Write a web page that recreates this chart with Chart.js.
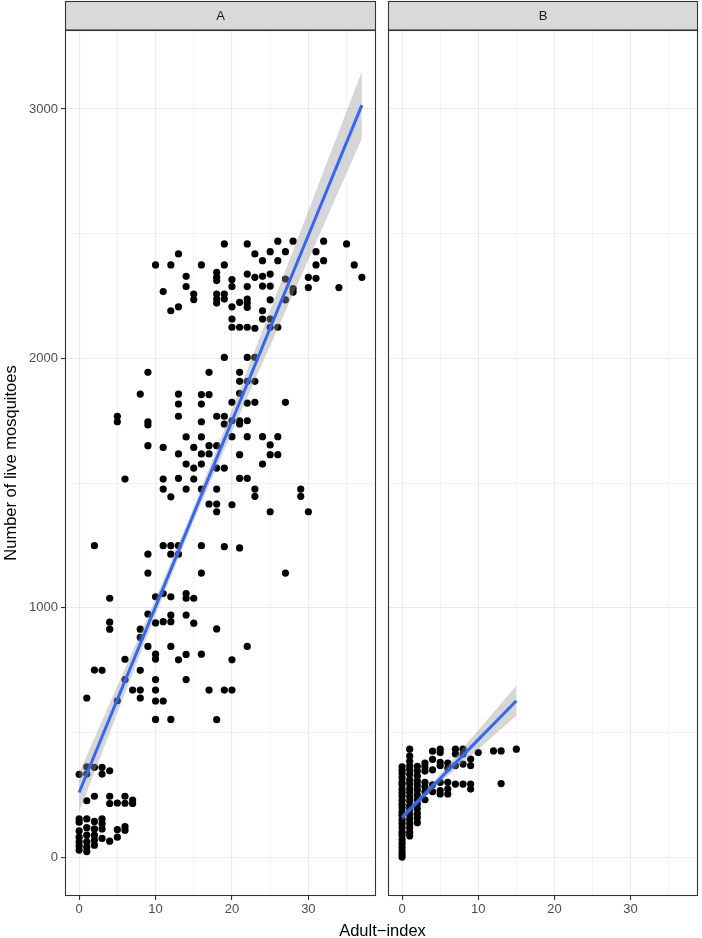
<!DOCTYPE html>
<html>
<head>
<meta charset="utf-8">
<script src="https://cdn.jsdelivr.net/npm/chart.js@4.4.0/dist/chart.umd.min.js"></script>
<style>
  html, body { margin: 0; padding: 0; background: #fff; }
  #quadro { position: relative; width: 702px; height: 938px; font-family: "Liberation Sans", Arial, sans-serif; }
  #grafico-a { position: absolute; left: 0; top: 0; }
  #grafico-b { position: absolute; left: 380px; top: 0; }
  #titulo-x { position: absolute; left: 65px; width: 635px; top: 921px; text-align: center; font-size: 16.5px; color: #000; line-height: 18px; }
</style>
</head>
<body>
<div id="quadro">
  <canvas id="grafico-a" width="380" height="938"></canvas>
  <canvas id="grafico-b" width="322" height="938"></canvas>
  <div id="titulo-x">Adult−index</div>
</div>
<script>
// painel A: valores de Adult-index e, para cada um, os mosquitos vivos
const indiceA = [0, 1, 2, 3, 4, 5, 6, 7, 8, 9, 10, 11, 12, 13, 14, 15, 16, 17, 18, 19, 20, 21, 22, 23, 24, 25, 26, 27, 28, 29, 30, 31, 32, 34, 35, 36, 37];
const vivosA = [
  [332, 153, 140, 105, 80, 62, 45, 28],
  [638, 362, 333, 226, 153, 118, 88, 61, 40, 22],
  [1249, 750, 360, 244, 143, 113, 88, 68, 48],
  [749, 360, 333, 153, 134, 113, 75],
  [1038, 942, 914, 346, 244, 215, 64],
  [1768, 1746, 627, 217, 110, 80],
  [1516, 793, 712, 244, 216, 122, 108],
  [670, 229, 215],
  [1857, 914, 881, 749, 670, 638],
  [1944, 1746, 1733, 1650, 1215, 1139, 975, 845],
  [2375, 1044, 939, 814, 794, 712, 670, 626, 552],
  [2268, 1643, 1516, 1476, 1249, 1057, 944, 626],
  [2375, 2191, 1445, 1249, 1215, 1044, 971, 944, 845, 552],
  [2419, 2207, 1857, 1817, 1768, 1617, 1519, 1249, 1215, 791],
  [2329, 2288, 1685, 1576, 1476, 1057, 1038, 971, 813, 712],
  [2258, 2236, 1643, 1560, 1516, 1038, 938],
  [2375, 1855, 1817, 1746, 1685, 1617, 1576, 1476, 1249, 1139, 814],
  [1944, 1855, 1650, 1617, 1416, 670],
  [2345, 2325, 2312, 2258, 2238, 2222, 1768, 1650, 1560, 1476, 1416, 1385, 915, 551],
  [2459, 2375, 2258, 2238, 2004, 1768, 1737, 1560, 1245, 670],
  [2316, 2288, 2207, 2158, 2125, 1824, 1750, 1686, 1413, 791, 670],
  [2225, 2125, 1944, 1908, 1860, 1750, 1737, 1614, 1519, 1240],
  [2459, 2338, 2288, 2238, 2222, 2205, 2125, 2004, 1908, 1821, 1750, 1686, 1519, 845],
  [2419, 2325, 2121, 2004, 1908, 1824, 1476, 1447],
  [2392, 2329, 2290, 2191, 2158, 1686, 1576],
  [2428, 2338, 2290, 2235, 2158, 2125, 1653, 1614, 1385],
  [2470, 2392, 2125, 1686, 1614],
  [2428, 2318, 2235, 1824, 1139],
  [2470, 2280, 2266],
  [1476, 1447],
  [2325, 2284, 1385],
  [2428, 2375, 2321],
  [2470, 2392],
  [2284],
  [2459],
  [2375],
  [2325],
];

// painel B
const indiceB = [0, 1, 2, 3, 4, 5, 6, 7, 8, 9, 10, 12, 13, 15];
const vivosB = [
  [362, 348, 335, 318, 300, 290, 272, 258, 245, 228, 212, 198, 180, 168, 150, 135, 118, 100, 88, 70, 55, 40, 25, 12, 0],
  [433, 405, 384, 365, 350, 332, 310, 295, 276, 260, 242, 225, 206, 190, 170, 152, 135, 118, 100, 85],
  [364, 345, 325, 305, 288, 270, 250, 232, 214, 195, 175, 158, 138],
  [377, 362, 345, 300, 282, 262, 230],
  [425, 392, 350, 290, 262],
  [433, 419, 380, 367, 300, 267, 253],
  [377, 357, 300, 273, 253],
  [433, 413, 367, 293],
  [433, 413, 373, 293],
  [393, 367, 293, 273],
  [419],
  [426],
  [426, 295],
  [433],
];

// reta ajustada (lm) e faixa de confiança
const ajusteXA = [0, 5, 10, 15, 20, 25, 30, 37];
const ajusteA = [259, 632, 1004, 1377, 1749, 2122, 2494, 3016];
const faixaInfA = [181, 578, 972, 1350, 1704, 2051, 2396, 2881];
const faixaSupA = [337, 686, 1036, 1404, 1794, 2193, 2592, 3151];

const ajusteXB = [0, 2.5, 5, 7.5, 10, 12.5, 15];
const ajusteB = [159, 237, 315, 393, 471, 549, 627];
const faixaInfB = [145, 225, 298, 366, 433, 500, 567];
const faixaSupB = [173, 249, 332, 420, 509, 598, 687];

// eixos
const gradeX = [0, 5, 10, 15, 20, 25, 30, 35];
const marcasX = [0, 10, 20, 30];
const gradeY = [0, 500, 1000, 1500, 2000, 2500, 3000];
const marcasY = [0, 1000, 2000, 3000];

const X_MIN = -1.85;
const X_MAX = 38.85;
const Y_MIN = -156;
const Y_MAX = 3317;

const FONTE = "'Liberation Sans', Arial, sans-serif";

const pontosDe = (indices, vivos) =>
  indices.flatMap((x, i) => vivos[i].map((y) => ({ x, y })));

const serieDe = (xs, ys) => xs.map((x, i) => ({ x, y: ys[i] }));

const faixaPlugin = {
  id: "faixa",
  afterDraw(chart, args, opts) {
    const { ctx, chartArea: a } = chart;
    ctx.save();
    ctx.fillStyle = "#D9D9D9";
    ctx.fillRect(a.left, 1, a.right - a.left, a.top - 1);
    ctx.strokeStyle = "#333333";
    ctx.lineWidth = 1.1;
    ctx.strokeRect(a.left + 0.5, 1.5, a.right - a.left - 1, a.top - 1.5);
    ctx.strokeRect(a.left + 0.5, a.top + 0.5, a.right - a.left - 1, a.bottom - a.top - 1);
    ctx.fillStyle = "#1A1A1A";
    ctx.font = `13px ${FONTE}`;
    ctx.textAlign = "center";
    ctx.textBaseline = "middle";
    ctx.fillText(opts.texto, (a.left + a.right) / 2, (a.top + 1) / 2 + 0.5);
    ctx.restore();
  },
};

const corGrade = "#EBEBEB";

const criarGrafico = (idCanvas, painel) => {
  const canvas = document.getElementById(idCanvas);
  const ctx = canvas.getContext("2d");
  const comEixoY = painel.comEixoY;

  return new Chart(ctx, {
    type: "scatter",
    data: {
      datasets: [
        {
          label: "pontos",
          data: pontosDe(painel.indices, painel.vivos),
          backgroundColor: "#000000",
          borderWidth: 0,
          pointRadius: 3.6,
          order: 3,
        },
        {
          label: "faixa inferior",
          data: serieDe(painel.ajusteX, painel.faixaInf),
          showLine: true,
          borderWidth: 0,
          borderColor: "rgba(0,0,0,0)",
          pointRadius: 0,
          fill: false,
          order: 2,
        },
        {
          label: "faixa superior",
          data: serieDe(painel.ajusteX, painel.faixaSup),
          showLine: true,
          borderWidth: 0,
          borderColor: "rgba(0,0,0,0)",
          backgroundColor: "rgba(153,153,153,0.4)",
          pointRadius: 0,
          fill: "-1",
          order: 2,
        },
        {
          label: "ajuste",
          data: serieDe(painel.ajusteX, painel.ajuste),
          showLine: true,
          borderColor: "#3366FF",
          borderWidth: 3,
          pointRadius: 0,
          fill: false,
          order: 1,
        },
      ],
    },
    options: {
      responsive: false,
      animation: false,
      events: [],
      layout: { padding: painel.padding },
      plugins: {
        legend: { display: false },
        tooltip: { enabled: false },
        faixa: { texto: painel.rotulo },
      },
      scales: {
        x: {
          type: "linear",
          min: X_MIN,
          max: X_MAX,
          afterBuildTicks: (s) => { s.ticks = gradeX.map((v) => ({ value: v })); },
          afterFit: (s) => { s.height = 42; },
          border: { display: false },
          grid: {
            color: corGrade,
            lineWidth: (c) => (marcasX.includes(c.tick.value) ? 1.1 : 0.6),
            tickLength: 4,
            tickColor: (c) => (marcasX.includes(c.tick.value) ? "#333333" : "rgba(0,0,0,0)"),
          },
          ticks: {
            autoSkip: false,
            maxRotation: 0,
            padding: 2,
            color: "#4D4D4D",
            font: { family: FONTE, size: 13 },
            callback: (v) => (marcasX.includes(v) ? String(v) : ""),
          },
        },
        y: {
          type: "linear",
          min: Y_MIN,
          max: Y_MAX,
          afterBuildTicks: (s) => { s.ticks = gradeY.map((v) => ({ value: v })); },
          afterFit: (s) => { s.width = comEixoY ? 65 : 0; },
          border: { display: false },
          grid: {
            color: corGrade,
            lineWidth: (c) => (marcasY.includes(c.tick.value) ? 1.1 : 0.6),
            drawTicks: comEixoY,
            tickLength: 4,
            tickColor: (c) => (marcasY.includes(c.tick.value) ? "#333333" : "rgba(0,0,0,0)"),
          },
          ticks: {
            display: comEixoY,
            autoSkip: false,
            padding: 3,
            color: "#4D4D4D",
            font: { family: FONTE, size: 13 },
            callback: (v) => (marcasY.includes(v) ? String(v) : ""),
          },
          title: {
            display: comEixoY,
            text: "Number of live mosquitoes",
            color: "#000000",
            font: { family: FONTE, size: 16.5 },
            padding: { top: 2, bottom: 0 },
          },
        },
      },
    },
    plugins: [faixaPlugin],
  });
};

criarGrafico("grafico-a", {
  rotulo: "A",
  comEixoY: true,
  indices: indiceA,
  vivos: vivosA,
  ajusteX: ajusteXA,
  ajuste: ajusteA,
  faixaInf: faixaInfA,
  faixaSup: faixaSupA,
  padding: { left: 0, right: 2, top: 30, bottom: 0 },
});

criarGrafico("grafico-b", {
  rotulo: "B",
  comEixoY: false,
  indices: indiceB,
  vivos: vivosB,
  ajusteX: ajusteXB,
  ajuste: ajusteB,
  faixaInf: faixaInfB,
  faixaSup: faixaSupB,
  padding: { left: 8, right: 2, top: 30, bottom: 0 },
});
</script>
</body>
</html>
